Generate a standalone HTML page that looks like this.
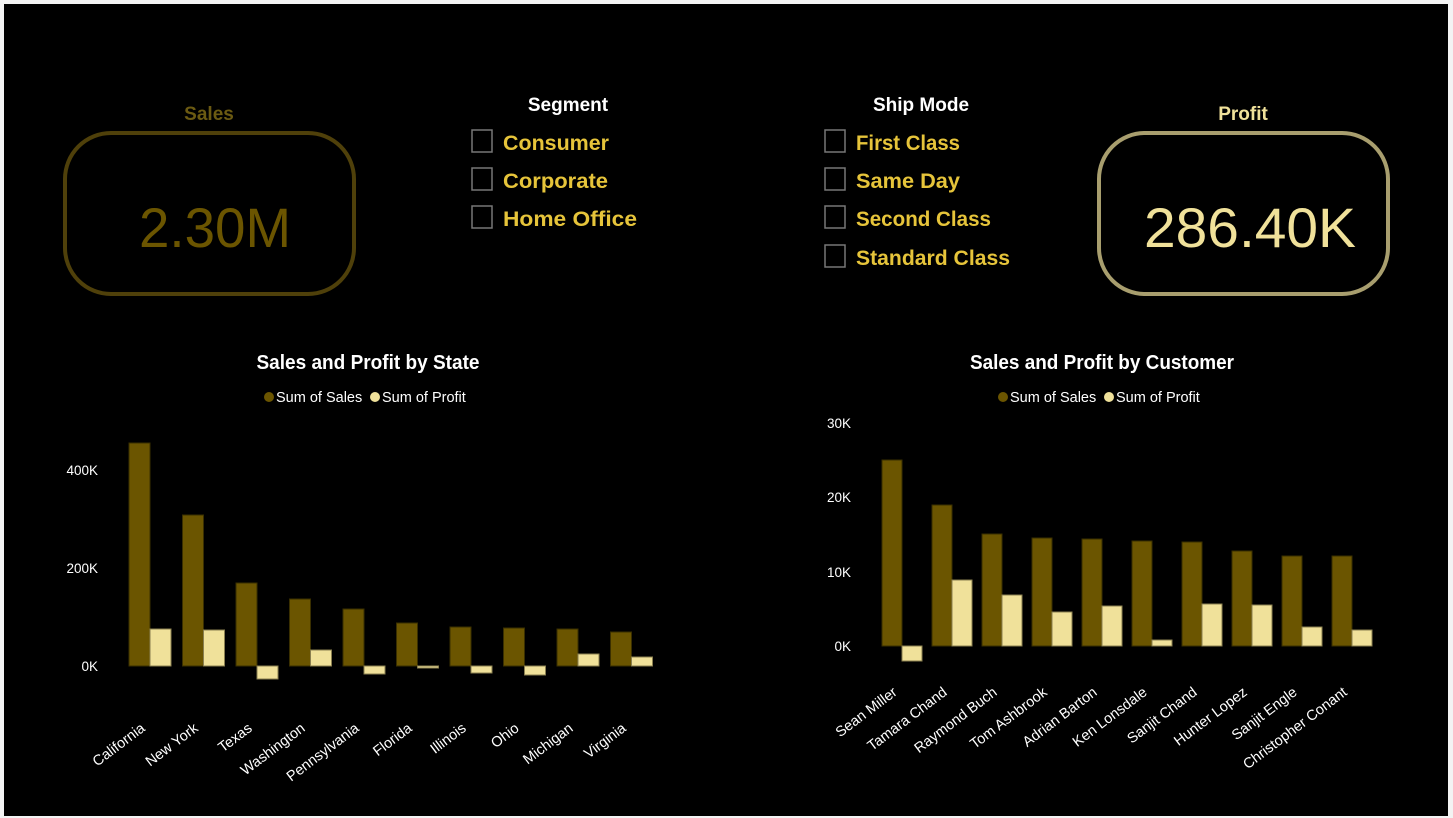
<!DOCTYPE html>
<html><head><meta charset="utf-8"><style>
html,body{margin:0;padding:0;background:#f3f3f3;}
svg{display:block;}
text{font-family:"Liberation Sans",sans-serif;}
</style></head><body>
<svg width="1453" height="818" viewBox="0 0 1453 818">
<rect x="0" y="0" width="1453" height="818" fill="#f3f3f3"/>
<rect x="4" y="4" width="1444" height="812" fill="#000"/>
<!-- Sales card -->
<text x="209" y="120" fill="#6b5a12" font-size="19" font-weight="bold" text-anchor="middle">Sales</text>
<rect x="65" y="133" width="289" height="161" rx="46" fill="none" stroke="#4f400a" stroke-width="4"/>
<text x="215" y="247" fill="#6b5500" font-size="56" text-anchor="middle" textLength="152" lengthAdjust="spacingAndGlyphs">2.30M</text>
<!-- Profit card -->
<text x="1243" y="120" fill="#f0e19a" font-size="19" font-weight="bold" text-anchor="middle">Profit</text>
<rect x="1099" y="133" width="289" height="161" rx="46" fill="none" stroke="#a89e6e" stroke-width="4"/>
<text x="1250" y="247" fill="#f0e19a" font-size="56" text-anchor="middle" textLength="212" lengthAdjust="spacingAndGlyphs">286.40K</text>
<!-- Segment -->
<text x="568" y="111" fill="#fff" font-size="19" font-weight="bold" text-anchor="middle">Segment</text>
<g fill="none" stroke="#777" stroke-width="1.5">
<rect x="472" y="130" width="20" height="22"/><rect x="472" y="168" width="20" height="22"/><rect x="472" y="206" width="20" height="22"/>
<rect x="825" y="130" width="20" height="22"/><rect x="825" y="168" width="20" height="22"/><rect x="825" y="206" width="20" height="22"/><rect x="825" y="245" width="20" height="22"/>
</g>
<g fill="#e6c43a" font-size="21" font-weight="bold">
<text x="503" y="150" textLength="106" lengthAdjust="spacingAndGlyphs">Consumer</text>
<text x="503" y="188" textLength="105" lengthAdjust="spacingAndGlyphs">Corporate</text>
<text x="503" y="226" textLength="134" lengthAdjust="spacingAndGlyphs">Home Office</text>
<text x="856" y="150" textLength="104" lengthAdjust="spacingAndGlyphs">First Class</text>
<text x="856" y="188" textLength="104" lengthAdjust="spacingAndGlyphs">Same Day</text>
<text x="856" y="226" textLength="135" lengthAdjust="spacingAndGlyphs">Second Class</text>
<text x="856" y="265" textLength="154" lengthAdjust="spacingAndGlyphs">Standard Class</text>
</g>
<text x="921" y="111" fill="#fff" font-size="19" font-weight="bold" text-anchor="middle">Ship Mode</text>
<!-- Left chart -->
<text x="368" y="369" fill="#fff" font-size="20" font-weight="bold" text-anchor="middle" textLength="223" lengthAdjust="spacingAndGlyphs">Sales and Profit by State</text>
<circle cx="269" cy="397" r="5" fill="#6b5500"/><text x="276" y="402" fill="#fff" font-size="14.5">Sum of Sales</text>
<circle cx="375" cy="397" r="5" fill="#f0e19a"/><text x="382" y="402" fill="#fff" font-size="14.5">Sum of Profit</text>
<g fill="#fff" font-size="13.5" text-anchor="end">
<text x="98" y="475">400K</text><text x="98" y="573">200K</text><text x="98" y="671">0K</text>
</g>
<g stroke="#3a2f00" stroke-width="1">
<g fill="#6b5500">
<rect x="129" y="443" width="21" height="223"/>
<rect x="182.5" y="515" width="21" height="151"/>
<rect x="236" y="583" width="21" height="83"/>
<rect x="289.5" y="599" width="21" height="67"/>
<rect x="343" y="609" width="21" height="57"/>
<rect x="396.5" y="623" width="21" height="43"/>
<rect x="450" y="627" width="21" height="39"/>
<rect x="503.5" y="628" width="21" height="38"/>
<rect x="557" y="629" width="21" height="37"/>
<rect x="610.5" y="632" width="21" height="34"/>
</g>
<g fill="#f0e19a" stroke="#8a7f50">
<rect x="150" y="629" width="21" height="37"/>
<rect x="203.5" y="630" width="21" height="36"/>
<rect x="257" y="666" width="21" height="13"/>
<rect x="310.5" y="650" width="21" height="16"/>
<rect x="364" y="666" width="21" height="8"/>
<rect x="417.5" y="666" width="21" height="2"/>
<rect x="471" y="666" width="21" height="7"/>
<rect x="524.5" y="666" width="21" height="9"/>
<rect x="578" y="654" width="21" height="12"/>
<rect x="631.5" y="657" width="21" height="9"/>
</g>
</g>
<g fill="#fff" font-size="14.5" text-anchor="end">
<text transform="translate(146,730) rotate(-37)">California</text>
<text transform="translate(199,730) rotate(-37)">New York</text>
<text transform="translate(253,730) rotate(-37)">Texas</text>
<text transform="translate(306,730) rotate(-37)">Washington</text>
<text transform="translate(360,730) rotate(-37)">Pennsylvania</text>
<text transform="translate(413,730) rotate(-37)">Florida</text>
<text transform="translate(467,730) rotate(-37)">Illinois</text>
<text transform="translate(520,730) rotate(-37)">Ohio</text>
<text transform="translate(574,730) rotate(-37)">Michigan</text>
<text transform="translate(627,730) rotate(-37)">Virginia</text>
</g>
<!-- Right chart -->
<text x="1102" y="369" fill="#fff" font-size="20" font-weight="bold" text-anchor="middle" textLength="264" lengthAdjust="spacingAndGlyphs">Sales and Profit by Customer</text>
<circle cx="1003" cy="397" r="5" fill="#6b5500"/><text x="1010" y="402" fill="#fff" font-size="14.5">Sum of Sales</text>
<circle cx="1109" cy="397" r="5" fill="#f0e19a"/><text x="1116" y="402" fill="#fff" font-size="14.5">Sum of Profit</text>
<g fill="#fff" font-size="13.5" text-anchor="end">
<text x="851" y="428">30K</text><text x="851" y="502">20K</text><text x="851" y="577">10K</text><text x="851" y="651">0K</text>
</g>
<g stroke="#3a2f00" stroke-width="1">
<g fill="#6b5500">
<rect x="882" y="460" width="20" height="186"/>
<rect x="932" y="505" width="20" height="141"/>
<rect x="982" y="534" width="20" height="112"/>
<rect x="1032" y="538" width="20" height="108"/>
<rect x="1082" y="539" width="20" height="107"/>
<rect x="1132" y="541" width="20" height="105"/>
<rect x="1182" y="542" width="20" height="104"/>
<rect x="1232" y="551" width="20" height="95"/>
<rect x="1282" y="556" width="20" height="90"/>
<rect x="1332" y="556" width="20" height="90"/>
</g>
<g fill="#f0e19a" stroke="#8a7f50">
<rect x="902" y="646" width="20" height="15"/>
<rect x="952" y="580" width="20" height="66"/>
<rect x="1002" y="595" width="20" height="51"/>
<rect x="1052" y="612" width="20" height="34"/>
<rect x="1102" y="606" width="20" height="40"/>
<rect x="1152" y="640" width="20" height="6"/>
<rect x="1202" y="604" width="20" height="42"/>
<rect x="1252" y="605" width="20" height="41"/>
<rect x="1302" y="627" width="20" height="19"/>
<rect x="1352" y="630" width="20" height="16"/>
</g>
</g>
<g fill="#fff" font-size="14.5" text-anchor="end">
<text transform="translate(898,694) rotate(-37)">Sean Miller</text>
<text transform="translate(948,694) rotate(-37)">Tamara Chand</text>
<text transform="translate(998,694) rotate(-37)">Raymond Buch</text>
<text transform="translate(1048,694) rotate(-37)">Tom Ashbrook</text>
<text transform="translate(1098,694) rotate(-37)">Adrian Barton</text>
<text transform="translate(1148,694) rotate(-37)">Ken Lonsdale</text>
<text transform="translate(1198,694) rotate(-37)">Sanjit Chand</text>
<text transform="translate(1248,694) rotate(-37)">Hunter Lopez</text>
<text transform="translate(1298,694) rotate(-37)">Sanjit Engle</text>
<text transform="translate(1348,694) rotate(-37)">Christopher Conant</text>
</g>
</svg>
</body></html>
